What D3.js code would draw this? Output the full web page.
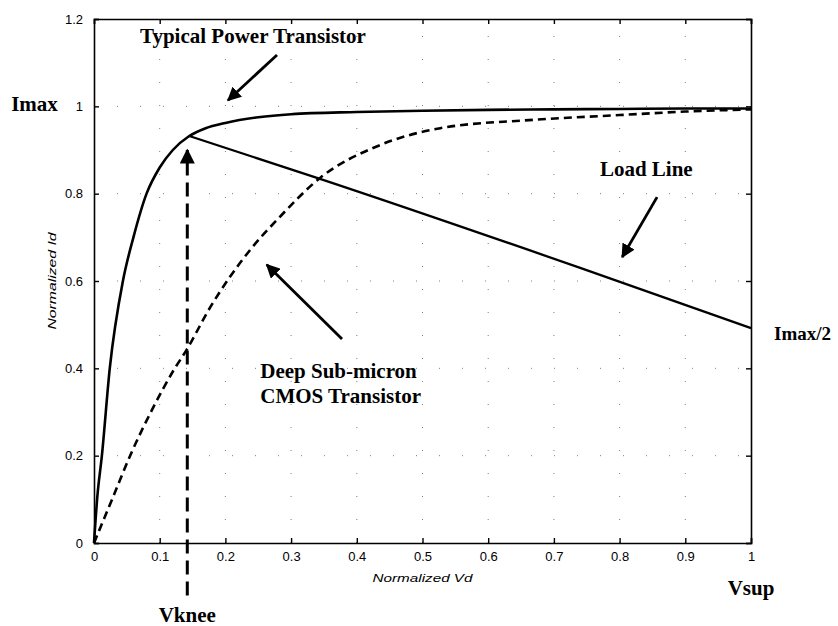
<!DOCTYPE html>
<html>
<head>
    <meta charset="utf-8">
    <title>Normalized Id vs Vd</title>
    <style>
        body { margin: 0; background: #fff; }
        .tick-label { font-family: "Liberation Sans", Arial, sans-serif; font-size: 13px; }
        .axis-title { font-family: "Liberation Sans", Arial, sans-serif; font-size: 11px; font-style: italic; }
        .note { font-family: "Liberation Serif", "Times New Roman", serif; font-weight: bold; font-size: 21px; }
    </style>
</head>
<body>
<script src="https://cdn.jsdelivr.net/npm/d3@7/dist/d3.min.js"></script>
<script>
    // typical power transistor (solid)
    var powerVd = [0, 0.005, 0.012, 0.024, 0.044, 0.06, 0.08, 0.1, 0.12, 0.145, 0.17, 0.2, 0.25, 0.3, 0.4, 0.5, 0.6, 0.7, 0.8, 0.9, 1.0];
    var powerId = [0, 0.105, 0.2, 0.4, 0.6, 0.7, 0.8, 0.86, 0.9, 0.932, 0.95, 0.962, 0.975, 0.982, 0.987, 0.99, 0.992, 0.993, 0.994, 0.995, 0.995];
    // deep sub-micron CMOS (dashed)
    var cmosVd = [0, 0.027, 0.055, 0.09, 0.123, 0.14, 0.177, 0.237, 0.283, 0.344, 0.435, 0.527, 0.668, 0.8, 0.9, 1.0];
    var cmosId = [0, 0.098, 0.2, 0.31, 0.4, 0.44, 0.54, 0.67, 0.747, 0.836, 0.911, 0.95, 0.969, 0.98, 0.988, 0.993];
    // load line
    var loadVd = [0.145, 0.344, 0.74, 1.0];
    var loadId = [0.932, 0.834, 0.63, 0.492];

    var xTicks = [0, 0.1, 0.2, 0.3, 0.4, 0.5, 0.6, 0.7, 0.8, 0.9, 1];
    var xTickLabels = ["0", "0.1", "0.2", "0.3", "0.4", "0.5", "0.6", "0.7", "0.8", "0.9", "1"];
    var yTicks = [0, 0.2, 0.4, 0.6, 0.8, 1, 1.2];
    var yTickLabels = ["0", "0.2", "0.4", "0.6", "0.8", "1", "1.2"];

    var vknee = 0.142;

    var notes = [
        { text: "Typical Power Transistor", x: 0.07, y: 1.145, anchor: "start", size: 21 },
        { text: "Load Line", x: 0.77, y: 0.84, anchor: "start", size: 21 },
        { text: "Deep Sub-micron", x: 0.253, y: 0.378, anchor: "start", size: 21 },
        { text: "CMOS Transistor", x: 0.253, y: 0.32, anchor: "start", size: 21 },
        { text: "Imax", x: -0.055, y: 0.99, anchor: "end", size: 21 },
        { text: "Imax/2", x: 1.035, y: 0.465, anchor: "start", size: 19 },
        { text: "Vknee", x: vknee, y: -0.181, anchor: "middle", size: 21 },
        { text: "Vsup", x: 1.0, y: -0.119, anchor: "middle", size: 21 }
    ];
    var arrows = [
        { x1: 0.2785, y1: 1.1175, x2: 0.204, y2: 1.014 },
        { x1: 0.857, y1: 0.792, x2: 0.804, y2: 0.655 },
        { x1: 0.3775, y1: 0.467, x2: 0.263, y2: 0.637 }
    ];

    var width = 838,
        height = 626;

    var x = d3.scaleLinear().domain([0, 1]).range([94, 751]);
    var y = d3.scaleLinear().domain([0, 1.2]).range([543, 19]);

    var svg = d3.select("body").append("svg")
        .attr("width", width)
        .attr("height", height);

    svg.append("defs").append("marker")
        .attr("id", "head")
        .attr("viewBox", "0 0 10 10")
        .attr("refX", 9)
        .attr("refY", 5)
        .attr("markerWidth", 5)
        .attr("markerHeight", 5)
        .attr("markerUnits", "strokeWidth")
        .attr("orient", "auto")
        .append("path")
        .attr("d", "M0,0 L10,5 L0,10 z")
        .attr("fill", "#000");

    // dotted grid
    var grid = svg.append("g")
        .attr("stroke", "#000")
        .attr("stroke-width", 1)
        .attr("stroke-dasharray", "1,22")
        .attr("opacity", 0.5);
    grid.selectAll(".gx")
        .data(xTicks.slice(1, -1))
        .enter().append("line")
        .attr("x1", function (d) { return x(d); })
        .attr("x2", function (d) { return x(d); })
        .attr("y1", y(0))
        .attr("y2", y(1.2));
    grid.selectAll(".gy")
        .data(yTicks.slice(1, -1))
        .enter().append("line")
        .attr("x1", x(0))
        .attr("x2", x(1))
        .attr("y1", function (d) { return y(d); })
        .attr("y2", function (d) { return y(d); });

    // axes, MATLAB style ticks pointing inward on all four sides
    var axisBottom = svg.append("g")
        .attr("transform", "translate(0," + y(0) + ")")
        .call(d3.axisBottom(x).tickValues(xTicks).tickSize(-5).tickPadding(9)
            .tickFormat(function (d, i) { return xTickLabels[i]; }));
    var axisLeft = svg.append("g")
        .attr("transform", "translate(" + x(0) + ",0)")
        .call(d3.axisLeft(y).tickValues(yTicks).tickSize(-5).tickPadding(11)
            .tickFormat(function (d, i) { return yTickLabels[i]; }));
    var axisTop = svg.append("g")
        .attr("transform", "translate(0," + y(1.2) + ")")
        .call(d3.axisTop(x).tickValues(xTicks).tickSize(-5).tickFormat(""));
    var axisRight = svg.append("g")
        .attr("transform", "translate(" + x(1) + ",0)")
        .call(d3.axisRight(y).tickValues(yTicks).tickSize(-5).tickFormat(""));

    [axisBottom, axisLeft, axisTop, axisRight].forEach(function (g) {
        g.attr("font-size", null).attr("font-family", null);
        g.select(".domain").attr("stroke-width", 1.6);
        g.selectAll(".tick line").attr("stroke-width", 1.4);
        g.selectAll("text").attr("class", "tick-label").attr("fill", "#000");
    });

    svg.append("text")
        .attr("class", "axis-title")
        .attr("x", x(0.5))
        .attr("y", 582)
        .attr("text-anchor", "middle")
        .attr("textLength", 100)
        .attr("lengthAdjust", "spacingAndGlyphs")
        .text("Normalized Vd");
    svg.append("text")
        .attr("class", "axis-title")
        .attr("transform", "translate(56," + y(0.6) + ") rotate(-90)")
        .attr("text-anchor", "middle")
        .attr("textLength", 97)
        .attr("lengthAdjust", "spacingAndGlyphs")
        .text("Normalized Id");

    var line = d3.line()
        .x(function (d) { return x(d[0]); })
        .y(function (d) { return y(d[1]); })
        .curve(d3.curveMonotoneX);

    svg.append("path")
        .datum(d3.zip(cmosVd, cmosId))
        .attr("d", line)
        .attr("fill", "none")
        .attr("stroke", "#000")
        .attr("stroke-width", 2.6)
        .attr("stroke-dasharray", "8,5");

    svg.append("path")
        .datum(d3.zip(powerVd, powerId))
        .attr("d", line)
        .attr("fill", "none")
        .attr("stroke", "#000")
        .attr("stroke-width", 2.6);

    svg.append("path")
        .datum(d3.zip(loadVd, loadId))
        .attr("d", line)
        .attr("fill", "none")
        .attr("stroke", "#000")
        .attr("stroke-width", 2.3);

    // Vknee dashed arrow
    svg.append("line")
        .attr("x1", x(vknee))
        .attr("x2", x(vknee))
        .attr("y1", y(-0.12))
        .attr("y2", y(0.9))
        .attr("stroke", "#000")
        .attr("stroke-width", 3)
        .attr("stroke-dasharray", "14,7")
        .attr("marker-end", "url(#head)");

    svg.selectAll(".arrow")
        .data(arrows)
        .enter().append("line")
        .attr("class", "arrow")
        .attr("x1", function (d) { return x(d.x1); })
        .attr("y1", function (d) { return y(d.y1); })
        .attr("x2", function (d) { return x(d.x2); })
        .attr("y2", function (d) { return y(d.y2); })
        .attr("stroke", "#000")
        .attr("stroke-width", 2.8)
        .attr("marker-end", "url(#head)");

    svg.selectAll(".note")
        .data(notes)
        .enter().append("text")
        .attr("class", "note")
        .attr("x", function (d) { return x(d.x); })
        .attr("y", function (d) { return y(d.y); })
        .attr("text-anchor", function (d) { return d.anchor; })
        .style("font-size", function (d) { return d.size + "px"; })
        .text(function (d) { return d.text; });
</script>
</body>
</html>
